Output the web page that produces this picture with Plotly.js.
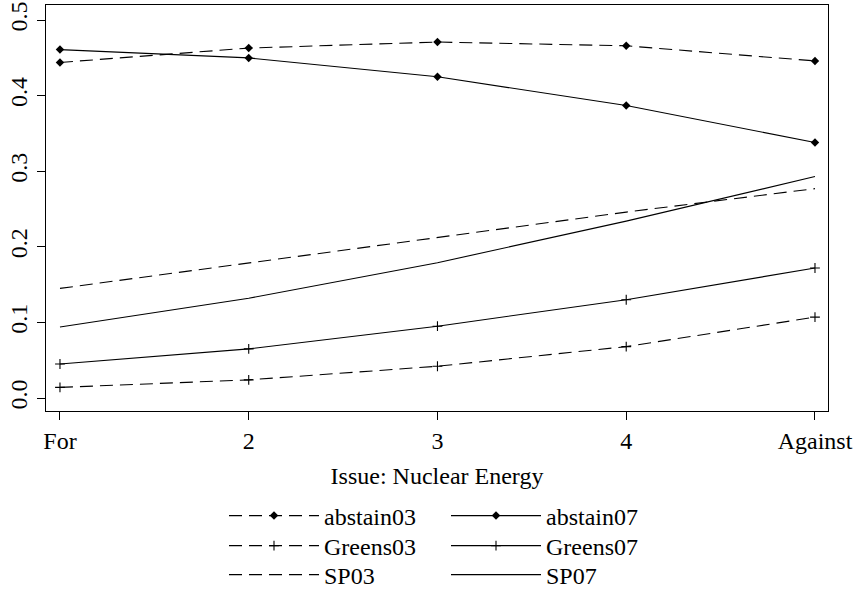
<!DOCTYPE html>
<html><head><meta charset="utf-8">
<script src="https://cdn.plot.ly/plotly-3.0.1.min.js"></script>
<style>html,body{margin:0;padding:0;background:#fff}#chart{width:856px;height:591px}</style>
</head><body><div id="chart"></div>
<script>
const positions = [1, 2, 3, 4, 5];
const tickLabels = ["For", "2", "3", "4", "Against"];
const abstain03 = [0.444, 0.463, 0.471, 0.466, 0.446];
const abstain07 = [0.461, 0.450, 0.425, 0.387, 0.338];
const greens03 = [0.014, 0.024, 0.042, 0.068, 0.107];
const greens07 = [0.045, 0.065, 0.095, 0.130, 0.172];
const sp03 = [0.145, 0.179, 0.213, 0.246, 0.277];
const sp07 = [0.094, 0.132, 0.179, 0.234, 0.293];

const FONT = "Liberation Serif, Times New Roman, serif";
const dash = "13px,7px";
function tr(name, y, dashed, symbol, legend) {
  const t = {
    x: positions, y: y, name: name, type: 'scatter',
    mode: symbol ? 'lines+markers' : 'lines',
    line: {color: 'black', width: 1.1, dash: dashed ? dash : 'solid'},
    legend: legend
  };
  if (symbol === 'diamond') t.marker = {symbol: 'diamond', size: 6.5, color: 'black'};
  if (symbol === 'cross') t.marker = {symbol: 'cross-thin', size: 7, color: 'black', line: {color: 'black', width: 1.1}};
  return t;
}
const data = [
  tr('abstain03', abstain03, true, 'diamond', 'legend'),
  tr('abstain07', abstain07, false, 'diamond', 'legend2'),
  tr('Greens03', greens03, true, 'cross', 'legend3'),
  tr('Greens07', greens07, false, 'cross', 'legend4'),
  tr('SP03', sp03, true, null, 'legend5'),
  tr('SP07', sp07, false, null, 'legend6')
];
const legendCommon = {
  font: {family: FONT, size: 24, color: 'black'},
  bgcolor: 'rgba(0,0,0,0)', borderwidth: 0,
  itemwidth: 90,
  xref: 'container', yref: 'container',
  xanchor: 'left', yanchor: 'middle', orientation: 'v'
};
function leg(xpx, ypx) { return Object.assign({}, legendCommon, {x: xpx/856, y: 1 - ypx/591}); }
const layout = {
  width: 856, height: 591,
  margin: {l: 46, r: 28, t: 5, b: 180, autoexpand: false},
  paper_bgcolor: 'white', plot_bgcolor: 'white',
  font: {family: FONT, size: 24, color: 'black'},
  showlegend: true,
  legend: leg(224, 516),
  legend2: leg(446, 516),
  legend3: leg(224, 546),
  legend4: leg(446, 546),
  legend5: leg(224, 575),
  legend6: leg(446, 575),
  xaxis: {
    range: [0.926, 5.069], tickvals: positions, ticktext: tickLabels, tickangle: 0,
    ticks: 'outside', ticklen: 8, tickcolor: 'black', tickwidth: 1,
    showline: true, mirror: true, linecolor: 'black', linewidth: 1,
    showgrid: false, zeroline: false,
    tickfont: {family: FONT, size: 24, color: 'black'},
    title: {text: 'Issue: Nuclear Energy', font: {family: FONT, size: 24, color: 'black'}, standoff: 14}
  },
  yaxis: {
    range: [-0.0172, 0.52], tickvals: [0, 0.1, 0.2, 0.3, 0.4, 0.5], tickformat: '.1f',
    ticks: 'outside', ticklen: 8, tickcolor: 'black', tickwidth: 1, tickangle: -90,
    showline: true, mirror: true, linecolor: 'black', linewidth: 1,
    showgrid: false, zeroline: false,
    tickfont: {family: FONT, size: 24, color: 'black'}
  }
};
Plotly.newPlot('chart', data, layout, {displayModeBar: false, staticPlot: true});
</script></body></html>
